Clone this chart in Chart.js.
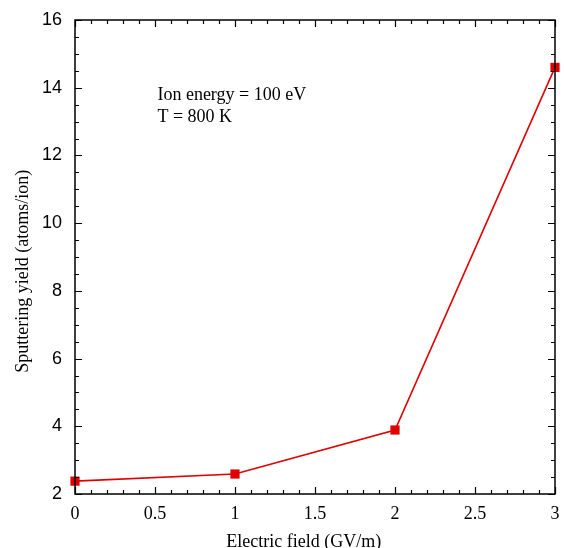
<!DOCTYPE html>
<html><head><meta charset="utf-8">
<script src="https://cdn.jsdelivr.net/npm/chart.js@4.4.1/dist/chart.umd.min.js"></script>
<style>html,body{margin:0;padding:0;background:#fff}#wrap{width:564px;height:548px}</style>
</head><body><div id="wrap"><canvas id="c" width="564" height="548"></canvas></div>
<script>
const fieldGVm = [0, 1, 2, 3];
const sputterYield = [2.38, 2.59, 3.89, 14.6];
const xMajorTicks = [0, 0.5, 1, 1.5, 2, 2.5, 3];
const yMajorTicks = [2, 4, 6, 8, 10, 12, 14, 16];
const annotationLines = ['Ion energy = 100 eV', 'T = 800 K'];
const xTitle = 'Electric field (GV/m)';
const yTitle = 'Sputtering yield (atoms/ion)';

const SERIF = '"Liberation Serif", "Times New Roman", serif';

const frame = {
  id: 'frame',
  afterDraw(chart) {
    const {ctx, chartArea: a, scales: {x, y}} = chart;
    ctx.save();
    ctx.strokeStyle = '#000';
    ctx.lineWidth = 1.5;
    ctx.strokeRect(a.left, a.top, a.right - a.left, a.bottom - a.top);
    ctx.lineWidth = 1.2;
    ctx.beginPath();
    for (let i = 0; i <= 30; i++) {
      const vv = i / 10;
      const major = i % 5 === 0;
      const len = major ? 7 : 4;
      const px = Math.round(x.getPixelForValue(vv)) + 0.5;
      ctx.moveTo(px, a.bottom); ctx.lineTo(px, a.bottom - len);
      ctx.moveTo(px, a.top); ctx.lineTo(px, a.top + len);
    }
    for (let i = 0; i <= 28; i++) {
      const v = 2 + i * 0.5;
      const major = i % 4 === 0;
      const len = major ? 7 : 4;
      const py = Math.round(y.getPixelForValue(v)) + 0.5;
      ctx.moveTo(a.left, py); ctx.lineTo(a.left + len, py);
      ctx.moveTo(a.right, py); ctx.lineTo(a.right - len, py);
    }
    ctx.stroke();
    ctx.fillStyle = '#000';
    ctx.font = '18px ' + SERIF;
    ctx.textBaseline = 'alphabetic';
    ctx.textAlign = 'left';
    const tx = x.getPixelForValue(0.515);
    annotationLines.forEach((t, i) => ctx.fillText(t, tx, 100 + i * 22));
    ctx.textAlign = 'center';
    ctx.fillText(xTitle, x.getPixelForValue(1.43), 547);
    ctx.save();
    ctx.translate(28, y.getPixelForValue(8.58));
    ctx.rotate(-Math.PI / 2);
    ctx.fillText(yTitle, 0, 0);
    ctx.restore();
    ctx.restore();
  }
};

new Chart(document.getElementById('c'), {
  type: 'line',
  data: {
    datasets: [{
      data: fieldGVm.map((f, i) => ({x: f, y: sputterYield[i]})),
      borderColor: '#e00000',
      backgroundColor: '#dd0000',
      borderWidth: 1.6,
      pointStyle: 'rect',
      pointRadius: 6.5,
      pointBorderWidth: 0,
      pointBackgroundColor: '#dd0000',
      clip: false,
      tension: 0
    }]
  },
  options: {
    responsive: false,
    animation: false,
    devicePixelRatio: 1,
    layout: {padding: {top: 20, right: 9, left: 0, bottom: 0}},
    plugins: {legend: {display: false}, tooltip: {enabled: false}},
    scales: {
      x: {
        type: 'linear', min: 0, max: 3,
        afterBuildTicks(s) { s.ticks = xMajorTicks.map(v => ({value: v})); },
        afterFit(s) { s.height = 54; s.paddingLeft = 0; s.paddingRight = 0; },
        grid: {display: false, drawTicks: false},
        border: {display: false},
        ticks: {
          padding: 9, color: '#000', maxRotation: 0,
          font: {family: SERIF, size: 18},
          callback: v => String(v)
        },
        title: {display: false}
      },
      y: {
        type: 'linear', min: 2, max: 16,
        afterBuildTicks(s) { s.ticks = yMajorTicks.map(v => ({value: v})); },
        afterFit(s) { s.width = 75; s.paddingTop = 0; s.paddingBottom = 0; },
        grid: {display: false, drawTicks: false},
        border: {display: false},
        ticks: {
          padding: 13, color: '#000',
          font: {family: '"Liberation Sans", Arial, Helvetica, sans-serif', size: 18},
          callback: v => String(v)
        },
        title: {display: false}
      }
    }
  },
  plugins: [frame]
});
</script></body></html>
